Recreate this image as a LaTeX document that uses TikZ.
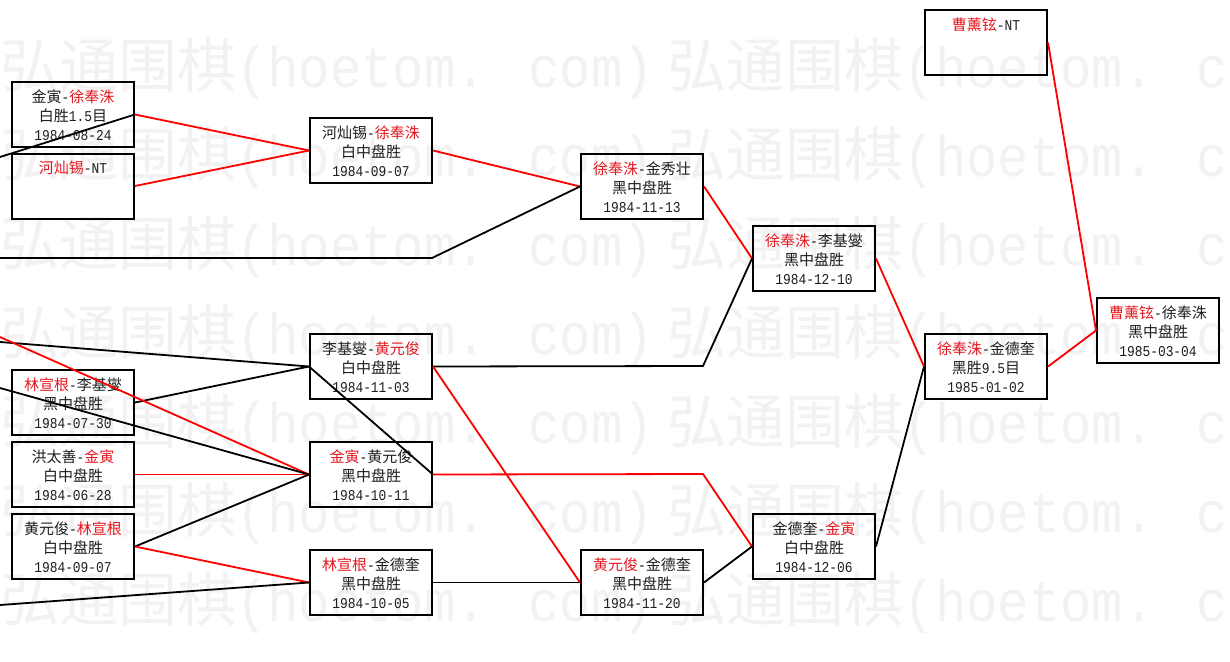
\documentclass[tikz,border=0pt]{standalone}
\usepackage{fontspec}
\newfontfamily\cjk{Noto Sans CJK SC}
\newfontfamily\dgfont{Liberation Mono}[FakeStretch=0.86]
\newfontfamily\wmmono{Liberation Mono}[FakeStretch=0.9]
\definecolor{wred}{RGB}{228,24,32}
\definecolor{wtext}{RGB}{30,30,30}
\definecolor{wmark}{RGB}{242,242,242}
\newcommand\rn[1]{\textcolor{wred}{#1}}
\newcommand\hy{{\dgfont -}}
\newcommand\gm[3]{\rule{0pt}{19.3pt}#1\\\strut#2\\\strut{\dgfont#3}}
\newcommand\gone[1]{\rule{0pt}{19.3pt}#1\\\strut\\\strut}
\newcommand\wmlat[1]{{\wmmono\fontsize{58}{58}\selectfont#1}}
\newcommand\wmtext{弘通围棋\wmlat{(hoetom. com)}\hspace{14pt}弘通围棋\wmlat{(hoetom. com)}}
\tikzset{
  box/.style={draw=black, line width=2pt, minimum width=122pt, minimum height=65pt,
    inner sep=0pt, align=center, font=\cjk\fontsize{15}{19}\selectfont, text=wtext},
  wm/.style={anchor=base west, inner sep=0pt, text=wmark, font=\cjk\fontsize{59}{59}\selectfont},
  bl/.style={draw=black, line width=1.8pt},
  rl/.style={draw=red, line width=1.8pt},
}
\begin{document}
\begin{tikzpicture}[x=1pt,y=-1pt]
\useasboundingbox (0,0) rectangle (1230,661);
\fill[white] (0,0) rectangle (1230,661);
% watermark
\foreach \k in {0,...,6}{
  \node[wm] (wm\k) at (0,{87+89*\k}) {\wmtext};
}
% boxes
\node[box] (A) at (73,114.5) {\gm{金寅\hy\rn{徐奉洙}}{白胜{\dgfont 1.5}目}{1984-08-24}};
\node[box] (B) at (73,186) {\gone{\rn{河灿锡}{\dgfont -NT}}};
\node[box] (C) at (371,150.5) {\gm{河灿锡\hy\rn{徐奉洙}}{白中盘胜}{1984-09-07}};
\node[box] (D) at (642,186.5) {\gm{\rn{徐奉洙}\hy 金秀壮}{黑中盘胜}{1984-11-13}};
\node[box] (E) at (814,258.5) {\gm{\rn{徐奉洙}\hy 李基燮}{黑中盘胜}{1984-12-10}};
\node[box] (F) at (371,366.5) {\gm{李基燮\hy\rn{黄元俊}}{白中盘胜}{1984-11-03}};
\node[box] (G) at (73,402.5) {\gm{\rn{林宣根}\hy 李基燮}{黑中盘胜}{1984-07-30}};
\node[box] (H) at (73,474.5) {\gm{洪太善\hy\rn{金寅}}{白中盘胜}{1984-06-28}};
\node[box] (I) at (371,474.5) {\gm{\rn{金寅}\hy 黄元俊}{黑中盘胜}{1984-10-11}};
\node[box] (J) at (73,546.5) {\gm{黄元俊\hy\rn{林宣根}}{白中盘胜}{1984-09-07}};
\node[box] (K) at (371,582.5) {\gm{\rn{林宣根}\hy 金德奎}{黑中盘胜}{1984-10-05}};
\node[box] (L) at (642,582.5) {\gm{\rn{黄元俊}\hy 金德奎}{黑中盘胜}{1984-11-20}};
\node[box] (M) at (814,546.5) {\gm{金德奎\hy\rn{金寅}}{白中盘胜}{1984-12-06}};
\node[box] (N) at (986,366.5) {\gm{\rn{徐奉洙}\hy 金德奎}{黑胜{\dgfont 9.5}目}{1985-01-02}};
\node[box] (O) at (986,42.5) {\gone{\rn{曹薰铉}{\dgfont -NT}}};
\node[box] (P) at (1158,330.5) {\gm{\rn{曹薰铉}\hy 徐奉洙}{黑中盘胜}{1985-03-04}};
% free ends and corners
\coordinate (oA) at (0,157);
\coordinate (oD) at (0,258);
\coordinate (cD) at (432,258);
\coordinate (cE) at (703,366);
\coordinate (cM) at (703,474);
\coordinate (oF) at (0,342);
\coordinate (oI1) at (0,337);
\coordinate (oI2) at (0,388);
\coordinate (oK) at (0,605);
% connectors
\draw[bl] (oA) -- (A.east);
\draw[rl] (A.east) -- (C.west);
\draw[rl] (B.east) -- (C.west);
\draw[rl] (C.east) -- (D.west);
\draw[bl] (oD) -- (cD) -- (D.west);
\draw[rl] (D.east) -- (E.west);
\draw[bl] (F.east) -- (cE) -- (E.west);
\draw[rl] (E.east) -- (N.west);
\draw[rl] (N.east) -- (P.west);
\draw[rl] (O.east) -- (P.west);
\draw[bl] (M.east) -- (N.west);
\draw[rl] (I.east) -- (cM) -- (M.west);
\draw[bl] (L.east) -- (M.west);
\draw[bl] (K.east) -- (L.west);
\draw[rl] (F.east) -- (L.west);
\draw[bl] (oF) -- (F.west);
\draw[bl] (G.east) -- (F.west);
\draw[rl] (oI1) -- (I.west);
\draw[bl] (oI2) -- (I.west);
\draw[rl] (H.east) -- (I.west);
\draw[bl] (J.east) -- (I.west);
\draw[rl] (J.east) -- (K.west);
\draw[bl] (oK) -- (K.west);
\draw[bl] (F.west) -- (I.east);
\end{tikzpicture}
\end{document}
